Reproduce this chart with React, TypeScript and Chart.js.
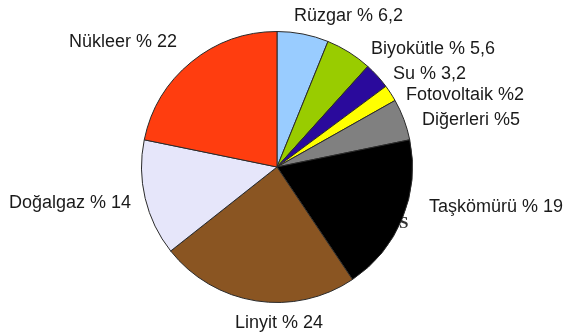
import React, { useEffect, useRef } from "react";
import { Chart, registerables } from "chart.js";

Chart.register(...registerables);

const categories = ["Rüzgar", "Biyokütle", "Su", "Fotovoltaik", "Diğerleri", "Taşkömürü", "Linyit", "Doğalgaz", "Nükleer"];
const values = [6.2, 5.6, 3.2, 2, 5, 19, 24, 14, 22];
const labelTexts = ["Rüzgar % 6,2", "Biyokütle % 5,6", "Su % 3,2", "Fotovoltaik %2", "Diğerleri %5", "Taşkömürü % 19", "Linyit % 24", "Doğalgaz % 14", "Nükleer % 22"];
const colors = ["#99ccff", "#99cc00", "#2a0a9c", "#ffff00", "#808080", "#000000", "#8a5522", "#e6e6fa", "#ff3d0f"];

// label placement (left x, baseline y) in canvas pixels
const labelLayout: [number, number][] = [
  [294, 21],
  [371, 54],
  [393, 79],
  [406, 100],
  [422, 125],
  [429, 212],
  [235, 328],
  [9, 208],
  [69, 47],
];

const labelPlugin = {
  id: "pieLabels",
  beforeDatasetsDraw(chart: any) {
    const ctx = chart.ctx;
    ctx.save();
    ctx.font = "bold 17px 'Liberation Serif', serif";
    ctx.fillStyle = "#333";
    ctx.textBaseline = "alphabetic";
    ctx.fillText("S", 399, 228);
    ctx.restore();
  },
  afterDraw(chart: any) {
    const ctx = chart.ctx;
    ctx.save();
    ctx.fillStyle = "#1a1a1a";
    ctx.font = "18px 'Liberation Sans', Arial, sans-serif";
    ctx.textAlign = "left";
    ctx.textBaseline = "alphabetic";
    labelTexts.forEach((t, i) => {
      const [x, y] = labelLayout[i];
      ctx.fillText(t, x, y);
    });
    ctx.restore();
  },
};

export default function App() {
  const ref = useRef<HTMLCanvasElement | null>(null);
  useEffect(() => {
    document.body.style.margin = "0";
    const c = ref.current!;
    const chart = new Chart(c, {
      type: "pie",
      data: {
        labels: categories,
        datasets: [
          {
            data: values,
            backgroundColor: colors,
            borderColor: "#2a2a2a",
            borderWidth: 1,
          },
        ],
      },
      options: {
        animation: false,
        responsive: false,
        layout: { padding: { left: 141, right: 151, top: 31, bottom: 31 } },
        plugins: { legend: { display: false }, tooltip: { enabled: false } },
      },
      plugins: [labelPlugin],
    });
    return () => chart.destroy();
  }, []);
  return (
    <div style={{ width: 564, height: 334, background: "#fff" }}>
      <canvas ref={ref} width={564} height={334} style={{ display: "block" }} />
    </div>
  );
}
